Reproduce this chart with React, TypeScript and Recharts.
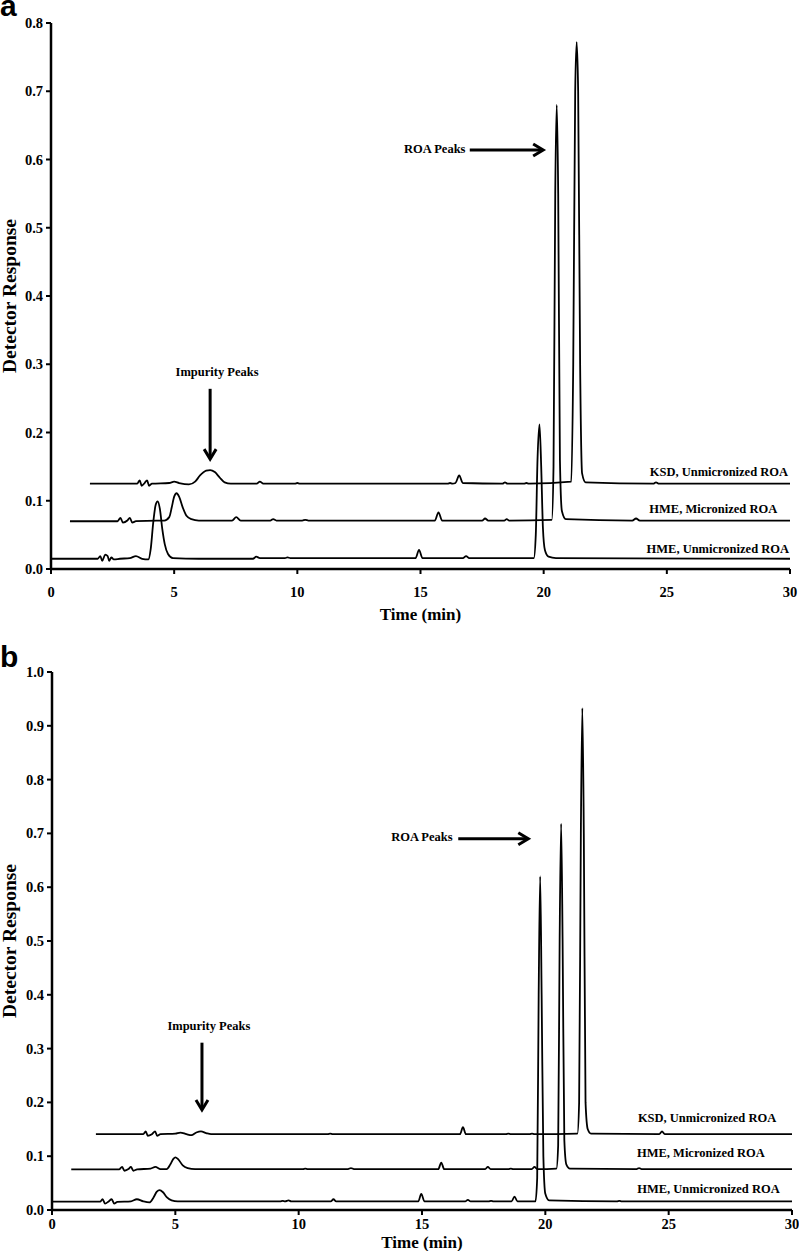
import { LineChart, Line, XAxis, YAxis, ReferenceLine, ReferenceDot } from 'recharts';

type Pt = [number, number];

const SERIF = '"Liberation Serif", "Times New Roman", serif';
const SANS = '"Liberation Sans", Arial, sans-serif';

// ---- panel a traces: [time (min), detector response] ----
const aHmeUnmic: Pt[] = [
  [0, 0.015], [1.9, 0.015], [2.0, 0.019], [2.08, 0.012], [2.2, 0.021], [2.3, 0.019], [2.36, 0.012],
  [2.45, 0.017], [2.55, 0.014], [2.8, 0.015], [3.2, 0.016], [3.45, 0.019], [3.7, 0.015], [3.95, 0.014],
  [4.05, 0.03], [4.15, 0.068], [4.25, 0.094], [4.33, 0.099], [4.42, 0.088], [4.52, 0.058], [4.62, 0.036],
  [4.75, 0.022], [4.95, 0.016], [6, 0.015], [8.2, 0.015], [8.33, 0.018], [8.48, 0.016], [9.5, 0.016],
  [9.6, 0.017], [9.72, 0.016], [14.8, 0.016], [14.94, 0.028], [15.08, 0.016], [16.72, 0.016], [16.85, 0.019],
  [16.98, 0.016], [19.6, 0.016], [19.68, 0.05], [19.75, 0.16], [19.83, 0.212], [19.9, 0.15], [19.97, 0.06],
  [20.05, 0.028], [20.2, 0.018], [20.5, 0.016], [30, 0.015],
];
const aHmeMic: Pt[] = [
  [0.77, 0.07], [2.7, 0.07], [2.82, 0.075], [2.92, 0.068], [3.1, 0.071], [3.2, 0.075], [3.3, 0.068],
  [3.45, 0.07], [4.3, 0.071], [4.6, 0.071], [4.8, 0.076], [4.9, 0.09], [5.0, 0.106], [5.1, 0.111],
  [5.2, 0.106], [5.35, 0.09], [5.5, 0.078], [5.7, 0.073], [6.0, 0.071], [7.35, 0.071], [7.52, 0.076],
  [7.7, 0.071], [8.9, 0.071], [9.02, 0.073], [9.15, 0.071], [10.2, 0.071], [10.32, 0.072], [10.45, 0.071],
  [15.58, 0.071], [15.73, 0.083], [15.88, 0.071], [17.5, 0.071], [17.62, 0.074], [17.75, 0.071],
  [18.4, 0.071], [18.5, 0.073], [18.6, 0.071], [20.33, 0.072], [20.4, 0.15], [20.47, 0.55], [20.53, 0.68],
  [20.59, 0.55], [20.66, 0.16], [20.74, 0.085], [20.9, 0.073], [23.6, 0.071], [23.75, 0.074],
  [23.9, 0.071], [30, 0.071],
];
const aKsdUnmic: Pt[] = [
  [1.58, 0.125], [3.5, 0.125], [3.6, 0.13], [3.68, 0.122], [3.8, 0.126], [3.9, 0.13], [3.98, 0.122],
  [4.1, 0.125], [4.8, 0.126], [5.0, 0.128], [5.2, 0.126], [5.6, 0.124], [5.85, 0.128], [6.05, 0.137],
  [6.3, 0.144], [6.46, 0.145], [6.65, 0.142], [6.85, 0.134], [7.05, 0.127], [7.3, 0.125], [8.35, 0.125],
  [8.48, 0.128], [8.62, 0.125], [9.9, 0.125], [10.0, 0.126], [10.1, 0.125], [16.1, 0.125], [16.2, 0.126],
  [16.3, 0.125], [16.42, 0.126], [16.57, 0.137], [16.72, 0.126], [18.33, 0.125], [18.43, 0.127],
  [18.53, 0.125], [19.2, 0.125], [19.3, 0.126], [19.4, 0.125], [21.12, 0.128], [21.2, 0.3], [21.28, 0.7],
  [21.34, 0.772], [21.4, 0.7], [21.48, 0.3], [21.56, 0.14], [21.7, 0.127], [24.45, 0.125], [24.56, 0.127],
  [24.68, 0.125], [30, 0.125],
];

// ---- panel b traces ----
const bHmeUnmic: Pt[] = [
  [0, 0.0155], [1.95, 0.0155], [2.05, 0.02], [2.15, 0.012], [2.3, 0.016], [2.42, 0.02], [2.52, 0.012],
  [2.65, 0.015], [3.2, 0.016], [3.44, 0.02], [3.7, 0.016], [3.95, 0.014], [4.1, 0.022], [4.25, 0.034],
  [4.36, 0.037], [4.5, 0.033], [4.65, 0.024], [4.85, 0.018], [5.1, 0.016], [9.25, 0.016], [9.35, 0.017],
  [9.45, 0.016], [9.59, 0.018], [9.7, 0.016], [11.3, 0.016], [11.41, 0.02], [11.52, 0.016], [14.85, 0.016],
  [14.97, 0.03], [15.1, 0.016], [16.75, 0.016], [16.86, 0.019], [16.97, 0.016], [17.7, 0.016], [17.8, 0.017],
  [17.9, 0.016], [18.63, 0.016], [18.75, 0.025], [18.87, 0.016], [19.6, 0.016], [19.67, 0.06], [19.73, 0.4],
  [19.79, 0.62], [19.85, 0.4], [19.92, 0.1], [20.0, 0.03], [20.15, 0.018], [22.9, 0.016], [23.0, 0.017],
  [23.1, 0.016], [30, 0.016],
];
const bHmeMic: Pt[] = [
  [0.78, 0.0755], [2.72, 0.0755], [2.84, 0.08], [2.94, 0.073], [3.1, 0.076], [3.2, 0.08], [3.3, 0.073],
  [3.45, 0.0755], [4.0, 0.077], [4.19, 0.08], [4.4, 0.076], [4.65, 0.076], [4.8, 0.085], [4.92, 0.095],
  [5.0, 0.098], [5.12, 0.094], [5.3, 0.083], [5.5, 0.078], [5.8, 0.076], [10.17, 0.076], [10.27, 0.077],
  [10.37, 0.076], [12.0, 0.076], [12.12, 0.078], [12.24, 0.076], [15.66, 0.076], [15.78, 0.088],
  [15.9, 0.076], [17.56, 0.076], [17.67, 0.08], [17.78, 0.076], [18.5, 0.076], [18.6, 0.077], [18.7, 0.076],
  [19.45, 0.076], [19.56, 0.08], [19.67, 0.076], [20.45, 0.077], [20.52, 0.12], [20.58, 0.5], [20.64, 0.718],
  [20.7, 0.5], [20.77, 0.13], [20.85, 0.085], [21.0, 0.077], [23.7, 0.076], [23.8, 0.078], [23.9, 0.076],
  [30, 0.076],
];
const bKsdUnmic: Pt[] = [
  [1.78, 0.141], [3.7, 0.141], [3.8, 0.146], [3.88, 0.138], [4.05, 0.141], [4.18, 0.146], [4.26, 0.138],
  [4.4, 0.141], [5.0, 0.142], [5.2, 0.144], [5.45, 0.141], [5.65, 0.139], [5.85, 0.144], [6.04, 0.146],
  [6.25, 0.143], [6.45, 0.141], [11.18, 0.141], [11.28, 0.142], [11.38, 0.141], [16.54, 0.141],
  [16.66, 0.154], [16.78, 0.141], [18.4, 0.141], [18.5, 0.142], [18.6, 0.141], [19.36, 0.141],
  [19.46, 0.142], [19.56, 0.141], [21.3, 0.142], [21.37, 0.2], [21.44, 0.7], [21.5, 0.933], [21.56, 0.7],
  [21.63, 0.2], [21.72, 0.15], [21.85, 0.142], [24.62, 0.141], [24.73, 0.146], [24.84, 0.141], [30, 0.141],
];

const xTicks = [0, 5, 10, 15, 20, 25, 30];
const aYTicks = [0, 0.1, 0.2, 0.3, 0.4, 0.5, 0.6, 0.7, 0.8];
const bYTicks = [0, 0.1, 0.2, 0.3, 0.4, 0.5, 0.6, 0.7, 0.8, 0.9, 1.0];

const traceNames = ['KSD, Unmicronized ROA', 'HME, Micronized ROA', 'HME, Unmicronized ROA'];

// trace label anchors (right end x, baseline y) in data units
const aLabelX = [29.92, 29.48, 29.96];
const aLabelY = [0.136, 0.082, 0.0235];
const bLabelX = [29.36, 28.9, 29.5];
const bLabelY = [0.164, 0.0986, 0.0316];

// annotations: [x, y] of text, arrow from -> to
const aRoaText: Pt = [14.33, 0.61];
const aRoaArrow: [Pt, Pt] = [[17.0, 0.614], [19.98, 0.614]];
const aImpText: Pt = [6.74, 0.283];
const aImpArrow: [Pt, Pt] = [[6.46, 0.264], [6.46, 0.161]];
const bRoaText: Pt = [13.75, 0.685];
const bRoaArrow: [Pt, Pt] = [[16.47, 0.69], [19.31, 0.69]];
const bImpText: Pt = [6.36, 0.335];
const bImpArrow: [Pt, Pt] = [[6.08, 0.311], [6.08, 0.186]];

const toRows = (pts: Pt[]) => pts.map(([t, v]) => ({ t, v }));

const arrowShape = (p: any) => {
  const { x1, y1, x2, y2 } = p;
  const ang = Math.atan2(y2 - y1, x2 - x1);
  const c = Math.cos(ang);
  const s = Math.sin(ang);
  const bx = x2 - 10 * c;
  const by = y2 - 10 * s;
  return (
    <g>
      <line x1={x1} y1={y1} x2={x2 - 2 * c} y2={y2 - 2 * s} stroke="#000" strokeWidth={3} />
      <path
        d={`M${bx + 6 * s},${by - 6 * c}L${x2},${y2}L${bx - 6 * s},${by + 6 * c}`}
        fill="none"
        stroke="#000"
        strokeWidth={3}
      />
    </g>
  );
};

const textShape = (text: string, anchor: 'start' | 'middle' | 'end') => (p: any) => (
  <text x={p.cx} y={p.cy} textAnchor={anchor} fontFamily={SERIF} fontWeight="bold" fontSize={12.5} fill="#000">
    {text}
  </text>
);

// custom ticks so the serif bold face is used
const xTick = (p: any) => (
  <text x={p.x} y={p.y + 10.5} textAnchor="middle" fontFamily={SERIF} fontWeight="bold" fontSize={14.5} fill="#000">
    {p.payload.value}
  </text>
);
const yTick = (p: any) => (
  <text x={p.x} y={p.y + 5} textAnchor="end" fontFamily={SERIF} fontWeight="bold" fontSize={14.5} fill="#000">
    {Number(p.payload.value).toFixed(1)}
  </text>
);

interface PanelProps {
  height: number;
  marginTop: number;
  marginRight: number;
  yAxisW: number;
  xAxisH: number;
  yMax: number;
  yTicks: number[];
  traces: Pt[][];
  labelX: number[];
  labelY: number[];
  roaText: Pt;
  roaArrow: [Pt, Pt];
  impText: Pt;
  impArrow: [Pt, Pt];
  tickGap: number;
  titleGap: number;
}

function Panel(props: PanelProps) {
  const axisStyle = { stroke: '#000', strokeWidth: 2.5 };
  return (
    <LineChart
      width={799}
      height={props.height}
      margin={{ top: props.marginTop, right: props.marginRight, left: 0, bottom: 0 }}
    >
      <XAxis
        type="number"
        dataKey="t"
        domain={[0, 30]}
        ticks={xTicks}
        interval={0}
        height={props.xAxisH}
        axisLine={axisStyle}
        tickLine={{ stroke: '#000', strokeWidth: 2 }}
        tickSize={5}
        tickMargin={props.tickGap}
        tick={xTick}
        label={(lp: any) => {
          const vb = lp.viewBox;
          return (
            <text
              x={vb.x + vb.width / 2}
              y={vb.y + props.titleGap}
              textAnchor="middle"
              fontFamily={SERIF}
              fontWeight="bold"
              fontSize={17}
              fill="#000"
            >
              Time (min)
            </text>
          );
        }}
      />
      <YAxis
        type="number"
        domain={[0, props.yMax]}
        ticks={props.yTicks}
        interval={0}
        width={props.yAxisW}
        axisLine={axisStyle}
        tickLine={{ stroke: '#000', strokeWidth: 2 }}
        tickSize={5}
        tickMargin={3}
        tick={yTick}
        label={(lp: any) => {
          const vb = lp.viewBox;
          const cx = 9;
          const cy = vb.y + vb.height / 2;
          return (
            <text
              x={cx}
              y={cy}
              transform={`rotate(-90 ${cx} ${cy})`}
              textAnchor="middle"
              dominantBaseline="central"
              fontFamily={SERIF}
              fontWeight="bold"
              fontSize={19.5}
              fill="#000"
            >
              Detector Response
            </text>
          );
        }}
      />
      {props.traces.map((pts, i) => (
        <Line
          key={i}
          data={toRows(pts)}
          dataKey="v"
          type="monotone"
          stroke="#000"
          strokeWidth={1.8}
          dot={false}
          activeDot={false}
          isAnimationActive={false}
        />
      ))}
      {traceNames.map((name, i) => (
        <ReferenceDot key={name} x={props.labelX[i]} y={props.labelY[i]} r={0} shape={textShape(name, 'end')} />
      ))}
      <ReferenceDot x={props.roaText[0]} y={props.roaText[1]} r={0} shape={textShape('ROA Peaks', 'start')} />
      <ReferenceDot x={props.impText[0]} y={props.impText[1]} r={0} shape={textShape('Impurity Peaks', 'middle')} />
      <ReferenceLine
        segment={[{ x: props.roaArrow[0][0], y: props.roaArrow[0][1] }, { x: props.roaArrow[1][0], y: props.roaArrow[1][1] }]}
        shape={arrowShape}
      />
      <ReferenceLine
        segment={[{ x: props.impArrow[0][0], y: props.impArrow[0][1] }, { x: props.impArrow[1][0], y: props.impArrow[1][1] }]}
        shape={arrowShape}
      />
    </LineChart>
  );
}

export default function App() {
  return (
    <div style={{ position: 'absolute', left: 0, top: 0, width: 799, height: 1251, background: '#fff' }}>
      <div style={{ position: 'absolute', left: 0, top: 0 }}>
        <Panel
          height={625}
          marginTop={23}
          marginRight={9}
          yAxisW={51}
          xAxisH={56}
          yMax={0.8}
          yTicks={aYTicks}
          traces={[aHmeUnmic, aHmeMic, aKsdUnmic]}
          labelX={aLabelX}
          labelY={aLabelY}
          roaText={aRoaText}
          roaArrow={aRoaArrow}
          impText={aImpText}
          impArrow={aImpArrow}
          tickGap={12}
          titleGap={51}
        />
      </div>
      <div style={{ position: 'absolute', left: 0, top: 625 }}>
        <Panel
          height={626}
          marginTop={47}
          marginRight={7}
          yAxisW={52}
          xAxisH={41}
          yMax={1.0}
          yTicks={bYTicks}
          traces={[bHmeUnmic, bHmeMic, bKsdUnmic]}
          labelX={bLabelX}
          labelY={bLabelY}
          roaText={bRoaText}
          roaArrow={bRoaArrow}
          impText={bImpText}
          impArrow={bImpArrow}
          tickGap={3}
          titleGap={38}
        />
      </div>
      <svg width={799} height={1251} style={{ position: 'absolute', left: 0, top: 0, pointerEvents: 'none' }}>
        <text x={0} y={16} fontFamily={SANS} fontWeight="bold" fontSize={30} fill="#000">a</text>
        <text x={0} y={667} fontFamily={SANS} fontWeight="bold" fontSize={30} fill="#000">b</text>
      </svg>
    </div>
  );
}
